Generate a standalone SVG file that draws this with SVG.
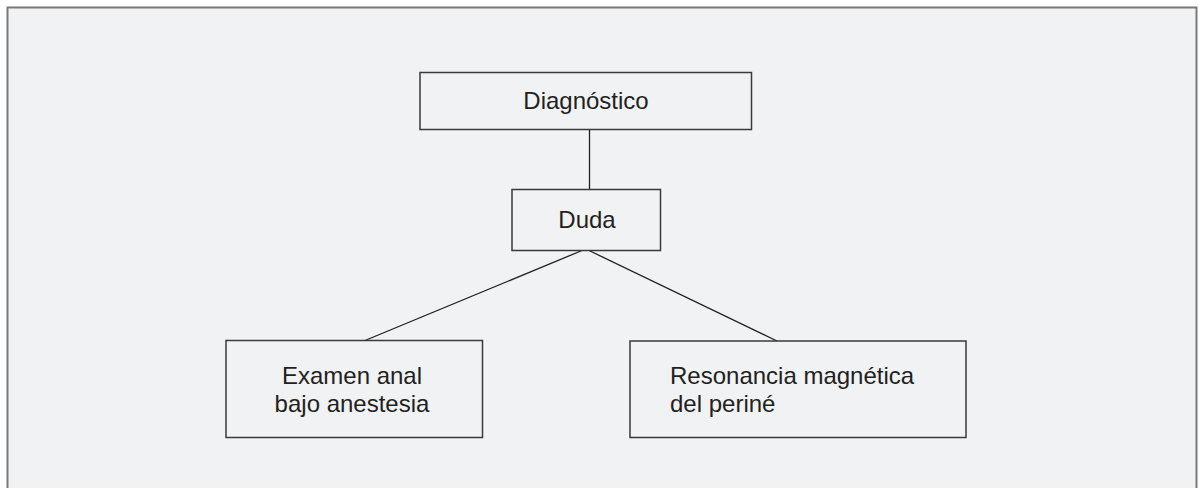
<svg xmlns="http://www.w3.org/2000/svg" width="1198" height="488" viewBox="0 0 1198 488">
<style>
.box{fill:none;stroke:#3a3a3a;stroke-width:1.5}
.t{font-family:"Liberation Sans",Arial,sans-serif;font-size:24px;fill:#231f20}
.c{text-anchor:middle}
.ln{stroke:#231f20;stroke-width:1.3;fill:none}
</style>
<rect x="0" y="0" width="1198" height="488" fill="#ffffff"/>
<rect x="7.5" y="7.5" width="1189" height="500" fill="#f1f2f4" stroke="#7a7a7a" stroke-width="2"/>
<g id="connectors">
<line class="ln" x1="589.5" y1="129" x2="589.5" y2="189.5"/>
<line class="ln" x1="582" y1="250.5" x2="365" y2="340.5"/>
<line class="ln" x1="589" y1="250.5" x2="777" y2="341"/>
</g>
<g id="diagnostico">
<rect class="box" x="420" y="72.5" width="331.5" height="57"/>
<text class="t c" x="586" y="108.5">Diagnóstico</text>
</g>
<g id="duda">
<rect class="box" x="512" y="189.5" width="148.5" height="61"/>
<text class="t c" x="587" y="227.5">Duda</text>
</g>
<g id="examen">
<rect class="box" x="226" y="340.5" width="256.5" height="97"/>
<text class="t c" x="352" y="384">Examen anal</text>
<text class="t c" x="352" y="411.5">bajo anestesia</text>
</g>
<g id="resonancia">
<rect class="box" x="630" y="341" width="336" height="96.5"/>
<text class="t" x="670" y="384">Resonancia magnética</text>
<text class="t" x="670" y="411.5">del periné</text>
</g>
</svg>
